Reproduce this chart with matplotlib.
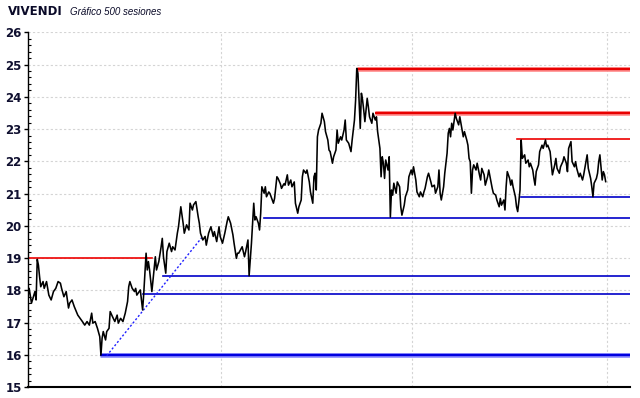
import matplotlib
matplotlib.use("Agg")
import matplotlib.pyplot as plt
from matplotlib.ticker import MultipleLocator

# sesiones y cierres
sesion = [0, 1, 3, 6, 7, 8, 9, 10, 11, 13, 14, 16, 18, 20, 22, 24, 26, 28, 29, 31,
          33, 35, 36, 38, 40, 43, 45, 47, 49, 51, 53, 55, 56, 58, 60, 62, 63, 64, 65, 67,
          68, 70, 71, 73, 75, 77, 78, 80, 82, 84, 86, 87, 88, 90, 92, 93, 94, 97, 99, 100,
          102, 103, 104, 105, 107, 108, 110, 111, 113, 115, 116, 117, 119, 120, 122, 124, 125, 127, 129, 130,
          132, 134, 135, 137, 139, 140, 142, 143, 145, 147, 148, 149, 151, 153, 154, 156, 158, 160, 161, 163,
          165, 166, 168, 170, 172, 173, 175, 177, 178, 180, 181, 182, 185, 187, 188, 190, 191, 193, 195, 196,
          197, 199, 200, 201, 202, 204, 205, 206, 208, 209, 211, 212, 213, 215, 216, 218, 219, 221, 222, 224,
          225, 227, 228, 230, 231, 233, 234, 236, 237, 238, 240, 241, 243, 244, 246, 247, 248, 249, 250, 251,
          253, 254, 256, 257, 259, 260, 261, 263, 264, 266, 267, 268, 270, 271, 273, 274, 275, 277, 279, 280,
          282, 283, 284, 285, 286, 287, 288, 289, 290, 291, 293, 294, 295, 297, 298, 300, 301, 302, 303, 304,
          305, 306, 307, 308, 309, 311, 312, 313, 314, 315, 316, 317, 318, 319, 321, 322, 323, 325, 326, 328,
          329, 331, 332, 333, 335, 336, 338, 339, 341, 342, 343, 345, 346, 348, 349, 351, 352, 354, 355, 356,
          357, 359, 360, 361, 362, 363, 364, 365, 366, 367, 369, 370, 372, 373, 375, 376, 377, 379, 380, 381,
          382, 383, 384, 385, 387, 388, 390, 391, 392, 394, 395, 397, 398, 400, 401, 402, 404, 405, 407, 408,
          409, 411, 412, 413, 414, 416, 417, 418, 419, 421, 422, 423, 424, 425, 426, 427, 429, 430, 432, 433,
          434, 436, 437, 438, 439, 441, 442, 444, 445, 447, 448, 449, 451, 452, 453, 455, 456, 457, 459, 460,
          462, 463, 465, 466, 467, 469, 470, 472, 473, 474, 476, 477, 479, 480, 482, 483, 484, 486, 487, 488,
          489, 491, 492, 493, 494, 496, 497, 498, 499]
cierre = [17.80, 18.06, 17.60, 17.96, 17.70, 18.96, 18.78, 18.42, 18.11, 18.27, 18.06, 18.27, 17.85, 17.70, 17.96, 18.06, 18.27, 18.22, 18.06, 17.80,
          17.96, 17.45, 17.60, 17.70, 17.49, 17.23, 17.13, 17.03, 16.92, 17.03, 16.92, 17.29, 16.98, 17.03, 16.82, 16.56, 15.99, 16.51, 16.72, 16.46,
          16.72, 16.82, 17.34, 17.18, 17.03, 17.23, 16.98, 17.13, 17.03, 17.29, 17.65, 18.11, 18.27, 18.06, 17.96, 18.06, 17.85, 18.01, 17.39, 17.91,
          19.15, 18.63, 18.89, 18.63, 17.96, 18.32, 19.04, 18.63, 18.89, 19.35, 19.61, 19.04, 18.53, 19.20, 19.46, 19.20, 19.35, 19.25, 19.77, 19.97,
          20.59, 20.08, 19.77, 20.03, 19.87, 20.70, 20.49, 20.65, 20.75, 20.28, 20.08, 19.77, 19.56, 19.67, 19.40, 19.77, 19.97, 19.67, 19.82, 19.51,
          19.97, 19.67, 19.46, 19.77, 20.13, 20.28, 20.08, 19.72, 19.46, 18.99, 19.15, 19.15, 19.35, 19.04, 19.20, 19.56, 18.45, 19.45, 20.70, 20.18,
          20.28, 20.08, 19.87, 20.39, 21.21, 21.01, 21.21, 20.90, 21.05, 21.00, 20.80, 20.70, 20.85, 21.52, 21.47, 21.30, 21.16, 21.30, 21.26, 21.58,
          21.26, 21.42, 21.21, 21.36, 20.70, 20.39, 20.59, 20.80, 21.52, 21.73, 21.63, 21.73, 21.36, 21.05, 20.70, 21.52, 21.63, 21.11, 22.76, 22.97,
          23.18, 23.49, 23.23, 22.92, 22.66, 22.35, 22.30, 21.94, 22.14, 22.35, 22.97, 22.56, 22.76, 22.66, 22.97, 23.28, 22.66, 22.56, 22.30, 22.66,
          23.28, 23.90, 24.88, 24.73, 23.90, 23.02, 24.11, 23.90, 23.59, 23.23, 23.95, 23.69, 23.38, 23.18, 23.49, 23.28, 23.38, 22.92, 22.66, 22.40,
          21.52, 22.14, 21.94, 21.47, 22.04, 21.73, 22.14, 20.27, 21.11, 20.95, 21.32, 21.16, 21.01, 21.36, 21.21, 20.59, 20.33, 20.64, 20.90, 21.11,
          21.52, 21.73, 21.58, 21.83, 21.42, 21.05, 20.90, 21.05, 20.90, 21.05, 21.16, 21.52, 21.63, 21.36, 21.21, 21.26, 21.01, 21.21, 21.73, 21.01,
          20.80, 21.21, 21.63, 21.94, 22.25, 22.87, 23.02, 22.76, 23.18, 22.97, 23.49, 23.33, 23.13, 23.38, 22.97, 22.76, 22.92, 22.66, 22.50, 22.09,
          21.99, 21.01, 21.73, 21.89, 21.73, 21.94, 21.58, 21.42, 21.78, 21.58, 21.26, 21.52, 21.73, 21.36, 21.16, 21.01, 20.95, 20.80, 20.59, 20.85,
          20.64, 20.80, 20.49, 21.21, 21.68, 21.47, 21.26, 21.42, 21.21, 20.90, 20.59, 20.44, 20.75, 21.11, 22.66, 22.09, 22.20, 21.94, 22.04, 21.83,
          21.94, 21.73, 21.47, 21.26, 21.68, 21.89, 22.30, 22.50, 22.40, 22.66, 22.45, 22.50, 22.30, 21.94, 21.58, 21.89, 22.09, 21.78, 21.63, 21.83,
          21.99, 22.14, 21.94, 21.68, 22.40, 22.61, 21.99, 21.83, 21.99, 21.78, 21.52, 21.63, 21.42, 21.58, 21.99, 22.20, 21.78, 21.47, 21.21, 20.90,
          21.32, 21.47, 21.63, 21.99, 22.20, 21.42, 21.68, 21.58, 21.37]

# niveles: (precio, sesion inicial, sesion final, grosor)
resistencias = [(19.00, 0, 107, 'thin'), (24.85, 284, 520, 'thick'),
                (23.50, 300, 520, 'thick'), (22.70, 422, 520, 'thin')]
soportes = [(20.90, 426, 520, 'thin'), (20.25, 204, 520, 'thin'),
            (18.45, 117, 520, 'thin'), (17.90, 99, 520, 'thin'),
            (16.00, 62, 520, 'thick')]
tendencia_x = [68, 150]
tendencia_y = [15.97, 19.63]
divisiones = [167, 332, 500]

fig = plt.figure(figsize=(6.4, 3.98), dpi=100)
ax = fig.add_axes([0.04375, 0.0276, 0.9406, 0.8912])

for y in range(15, 27):
    ax.axhline(y, color='#d4d4d4', lw=0.8, ls=(0, (2, 2)), zorder=0)
for x in divisiones:
    ax.axvline(x, color='#d4d4d4', lw=0.8, ls=(0, (2, 2)), zorder=0)

for precio, x0, x1, grosor in resistencias:
    if grosor == 'thick':
        ax.plot([x0, x1], [precio, precio], color='#ff9090', lw=3.4, zorder=2, solid_capstyle='butt')
        ax.plot([x0, x1], [precio, precio], color='#e80000', lw=1.7, zorder=2, solid_capstyle='butt')
    else:
        ax.plot([x0, x1], [precio, precio], color='#ee0000', lw=1.2, zorder=2)
for precio, x0, x1, grosor in soportes:
    if grosor == 'thick':
        ax.plot([x0, x1], [precio, precio], color='#9090ff', lw=3.4, zorder=2, solid_capstyle='butt')
        ax.plot([x0, x1], [precio, precio], color='#0000e0', lw=1.7, zorder=2, solid_capstyle='butt')
    else:
        ax.plot([x0, x1], [precio, precio], color='#0000c8', lw=1.2, zorder=2)
ax.plot(tendencia_x, tendencia_y, color='#2020ff', lw=1.0, ls=(0, (1.5, 1.5)), zorder=2)

ax.plot(sesion, cierre, color='black', lw=1.15, zorder=3)

ax.set_xlim(0, 520)
ax.set_ylim(15, 26)
ax.yaxis.set_major_locator(MultipleLocator(1))
ax.yaxis.set_minor_locator(MultipleLocator(0.2))
ax.tick_params(axis='y', which='major', direction='out', length=3, width=1, pad=1.5,
               labelsize=8.5, labelcolor='#101030')
ax.tick_params(axis='y', which='minor', direction='in', length=2, width=0.8)
for lab in ax.get_yticklabels():
    lab.set_fontweight('bold')
ax.set_xticks([])
ax.spines['top'].set_visible(False)
ax.spines['right'].set_visible(False)
ax.spines['left'].set_linewidth(1)
ax.spines['bottom'].set_linewidth(1.5)

fig.text(8 / 640, 1 - 15 / 398, 'VIVENDI', fontsize=8.5, fontweight='bold', color='#0a0a28')
fig.text(70 / 640, 1 - 15 / 398, 'Gráfico 500 sesiones', fontsize=7, style='italic',
         family='Liberation Sans', color='#0a0a28')

fig.savefig('out.png', dpi=100)
